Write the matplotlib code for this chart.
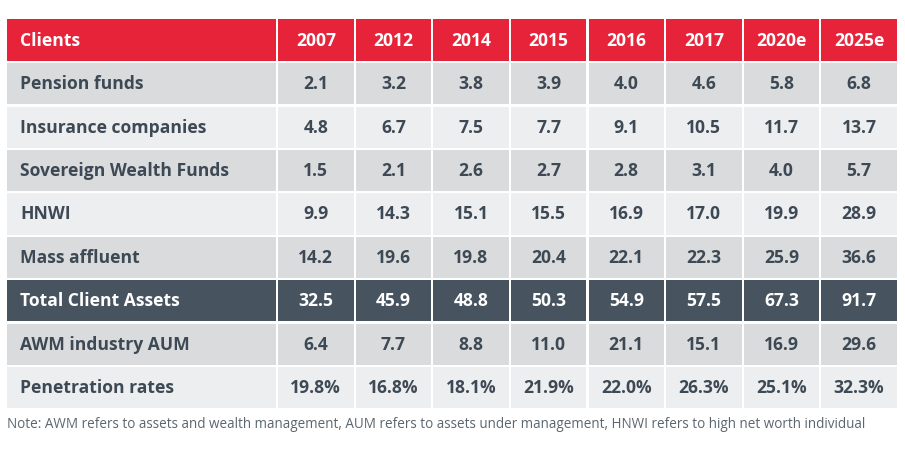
import matplotlib
matplotlib.use("Agg")
import matplotlib.pyplot as plt
from matplotlib.patches import Rectangle

years = ["2007", "2012", "2014", "2015", "2016", "2017", "2020e", "2025e"]
clients = ["Pension funds", "Insurance companies", "Sovereign Wealth Funds", "HNWI",
           "Mass affluent", "Total Client Assets", "AWM industry AUM", "Penetration rates"]
pension = [2.1, 3.2, 3.8, 3.9, 4.0, 4.6, 5.8, 6.8]
insurance = [4.8, 6.7, 7.5, 7.7, 9.1, 10.5, 11.7, 13.7]
swf = [1.5, 2.1, 2.6, 2.7, 2.8, 3.1, 4.0, 5.7]
hnwi = [9.9, 14.3, 15.1, 15.5, 16.9, 17.0, 19.9, 28.9]
mass = [14.2, 19.6, 19.8, 20.4, 22.1, 22.3, 25.9, 36.6]
total = [32.5, 45.9, 48.8, 50.3, 54.9, 57.5, 67.3, 91.7]
awm = [6.4, 7.7, 8.8, 11.0, 21.1, 15.1, 16.9, 29.6]
penetration = [19.8, 16.8, 18.1, 21.9, 22.0, 26.3, 25.1, 32.3]
note = ("Note: AWM refers to assets and wealth management, AUM refers to assets under "
        "management, HNWI refers to high net worth individual")

rows = [pension, insurance, swf, hnwi, mass, total, awm, penetration]
fmts = ["{:.1f}"] * 7 + ["{:.1f}%"]

RED = "#E62339"
DARK = "#DADBDD"
LIGHT = "#EDEEF0"
NAVY = "#47535E"
TXT = "#3D4954"
row_colors = [DARK, LIGHT, DARK, LIGHT, DARK, NAVY, DARK, LIGHT]

fig = plt.figure(figsize=(9.05, 4.53), dpi=100)
ax = fig.add_axes([0, 0, 1, 1])
ax.set_xlim(0, 905)
ax.set_ylim(453, 0)
ax.axis("off")

FONT = "Open Sans"
FS = 12.6
x0, first_w, col_w, gap = 7, 270, 77.6, 2.2
y0, head_h, row_h = 19, 42, 43.4

col_lefts = [x0] + [x0 + first_w + i * col_w for i in range(len(years))]
col_rights = [x0 + first_w] + [x0 + first_w + (i + 1) * col_w for i in range(len(years))]

def cell(r_top, r_h, ci, color):
    ax.add_patch(Rectangle((col_lefts[ci] + (gap / 2 if ci > 0 else 0), r_top),
                           col_rights[ci] - col_lefts[ci] - (gap / 2 if ci > 0 else 0) - (gap / 2),
                           r_h - gap, facecolor=color, edgecolor="none"))

# header
for ci in range(len(years) + 1):
    cell(y0, head_h + gap, ci, RED)
ax.text(col_lefts[0] + 13, y0 + head_h / 2 + 0.5, "Clients", color="white", fontsize=FS,
        fontweight="bold", family=FONT, va="center", ha="left")
for i, yr in enumerate(years):
    ax.text((col_lefts[i + 1] + col_rights[i + 1]) / 2, y0 + head_h / 2 + 0.5, yr, color="white",
            fontsize=FS, fontweight="bold", family=FONT, va="center", ha="center")

for r, (name, vals) in enumerate(zip(clients, rows)):
    top = y0 + head_h + gap + r * row_h
    color = row_colors[r]
    tc = "white" if color == NAVY else TXT
    for ci in range(len(years) + 1):
        cell(top, row_h, ci, color)
    cy = top + (row_h - gap) / 2 + 0.5
    ax.text(col_lefts[0] + 13, cy, name, color=tc, fontsize=FS, fontweight="bold",
            family=FONT, va="center", ha="left")
    for i, v in enumerate(vals):
        ax.text((col_lefts[i + 1] + col_rights[i + 1]) / 2, cy, fmts[r].format(v), color=tc,
                fontsize=FS, fontweight="bold", family=FONT, va="center", ha="center")

ax.text(x0, 424, note, color="#5B6670", fontsize=9.75, family=FONT, va="center", ha="left")

fig.savefig("out.png", dpi=100)
